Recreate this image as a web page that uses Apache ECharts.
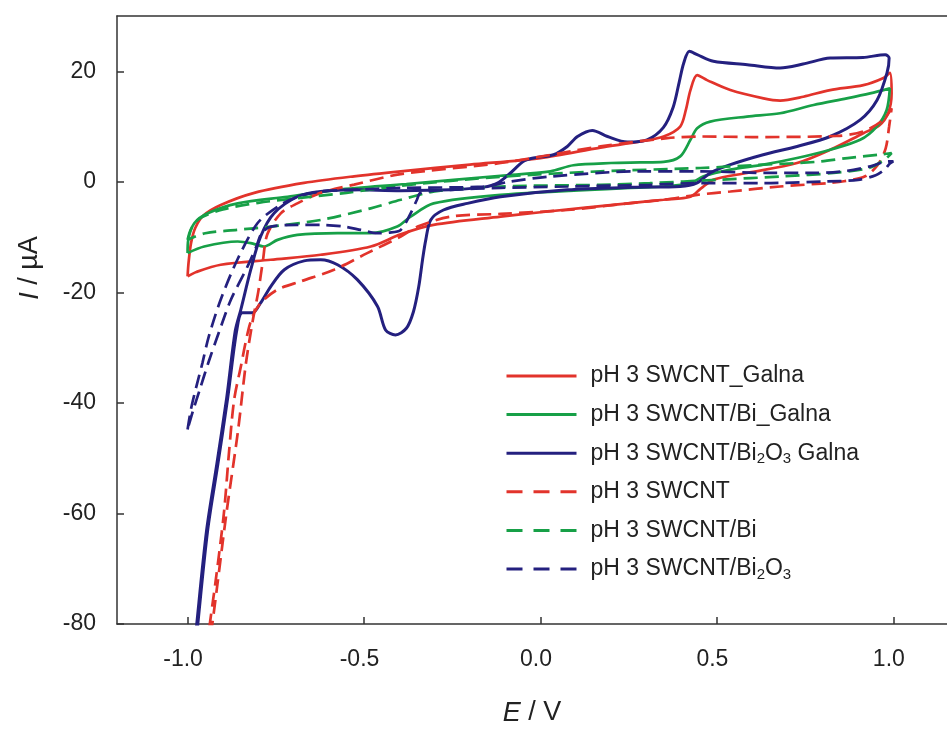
<!DOCTYPE html>
<html>
<head>
<meta charset="utf-8">
<script src="https://cdn.jsdelivr.net/npm/echarts@6/dist/echarts.min.js"></script>
<style>
html,body{margin:0;padding:0;background:#fff;}
#chart{width:947px;height:729px;}
</style>
</head>
<body>
<div id="chart"></div>
<script>
// Tick values
var xTicks = [-1.0, -0.5, 0.0, 0.5, 1.0];
var yTicks = [-80, -60, -40, -20, 0, 20];

// Series names (legend order)
var names = ['pH 3 SWCNT_Galna', 'pH 3 SWCNT/Bi_Galna', 'pH 3 SWCNT/Bi2O3 Galna',
             'pH 3 SWCNT', 'pH 3 SWCNT/Bi', 'pH 3 SWCNT/Bi2O3'];

// [E (V), I (uA)]
var redSolid = [
 [-1.000,-17.1],[-0.997,-14.5],[-0.990,-11.0],[-0.978,-8.3],[-0.955,-6.1],[-0.906,-4.2],
 [-0.811,-2.0],[-0.670,-0.2],[-0.528,1.0],[-0.396,1.9],[-0.200,3.1],[0.000,4.3],[0.170,6.2],
 [0.283,7.3],[0.349,8.2],[0.396,10.0],[0.412,13.0],[0.425,16.6],[0.444,19.3],[0.472,18.4],
 [0.538,16.6],[0.632,15.1],[0.679,14.7],[0.745,15.4],[0.821,16.6],[0.915,17.5],[0.972,18.8],
 [0.990,19.7],
 [0.995,16.0],[0.985,12.4],[0.960,10.2],[0.915,8.8],[0.821,5.8],[0.727,3.4],[0.585,1.6],
 [0.491,0.4],[0.455,-1.2],[0.425,-2.7],[0.349,-3.25],[0.255,-3.85],[0.000,-5.5],[-0.113,-6.3],
 [-0.303,-7.8],[-0.396,-9.5],[-0.481,-11.7],[-0.623,-13.2],[-0.764,-14.1],[-0.906,-15.0],
 [-0.975,-16.3],[-1.000,-17.1]
];
var greenSolid = [
 [-1.000,-12.9],[-0.998,-10.5],[-0.981,-7.5],[-0.943,-5.7],[-0.858,-3.9],[-0.717,-2.7],
 [-0.575,-1.45],[-0.380,-0.4],[-0.113,1.1],[0.028,1.9],[0.093,3.0],[0.200,3.4],[0.283,3.5],
 [0.349,3.6],[0.396,4.6],[0.425,7.6],[0.444,9.7],[0.481,10.9],[0.585,11.8],[0.679,12.4],
 [0.774,13.9],[0.868,15.1],[0.934,16.0],[0.990,16.9],
 [0.981,13.0],[0.953,10.0],[0.906,7.6],[0.821,5.8],[0.727,4.3],[0.632,3.1],[0.538,2.2],
 [0.462,1.0],[0.425,-0.24],[0.349,-0.85],[0.255,-1.1],[-0.113,-2.35],[-0.303,-3.9],
 [-0.368,-6.3],[-0.406,-8.1],[-0.481,-9.3],[-0.575,-9.3],[-0.689,-9.6],[-0.745,-10.5],
 [-0.783,-11.7],[-0.821,-11.1],[-0.858,-10.8],[-0.953,-11.7],[-1.000,-12.9]
];
var blueSolid = [
 [-1.000,-97],[-0.974,-80],[-0.946,-63],[-0.917,-51],[-0.889,-39],[-0.865,-27],[-0.849,-23.1],
 [-0.821,-15.9],[-0.793,-9.9],[-0.755,-5.7],[-0.689,-2.7],[-0.623,-1.75],[-0.528,-1.45],
 [-0.396,-1.6],[-0.255,-1.45],[-0.161,-0.96],[-0.122,-0.24],[-0.085,1.6],[-0.048,3.7],
 [-0.020,4.3],[0.037,4.9],[0.076,6.4],[0.105,8.2],[0.147,9.3],[0.190,8.2],[0.246,7.2],
 [0.302,7.6],[0.348,9.8],[0.376,13.5],[0.393,18.0],[0.406,21.5],[0.422,23.6],[0.444,23.0],
 [0.490,21.8],[0.586,21.2],[0.679,20.6],[0.744,21.3],[0.821,22.4],[0.914,22.5],[0.977,23.0],
 [0.988,22.4],
 [0.982,19.7],[0.954,14.8],[0.906,11.2],[0.821,8.2],[0.727,6.4],[0.631,4.9],[0.538,3.1],
 [0.481,1.6],[0.444,-0.2],[0.396,-0.85],[0.260,-1.0],[0.076,-1.45],[-0.113,-2.7],
 [-0.207,-3.9],[-0.275,-5.1],[-0.311,-6.9],[-0.325,-10.5],[-0.334,-14.0],[-0.345,-19.0],
 [-0.360,-23.5],[-0.380,-26.5],[-0.411,-27.7],[-0.439,-26.8],[-0.462,-22.5],[-0.519,-17.7],
 [-0.575,-15.0],[-0.623,-14.1],[-0.670,-14.3],[-0.726,-15.9],[-0.764,-18.9],[-0.793,-21.9],
 [-0.816,-23.7],[-0.845,-23.7],[-0.861,-27],[-0.886,-39],[-0.914,-51],[-0.943,-63],
 [-0.971,-80],[-0.997,-97]
];
var redDashed = [
 [-1.000,-112],[-0.930,-80],[-0.890,-60],[-0.857,-45],[-0.835,-33],[-0.815,-25],[-0.800,-20],
 [-0.787,-14.5],[-0.774,-9.5],[-0.736,-5.7],[-0.689,-3.9],[-0.623,-2.0],[-0.528,-0.5],
 [-0.396,1.4],[-0.113,3.4],[0.170,6.4],[0.359,7.9],[0.453,8.2],[0.600,8.1],[0.840,8.3],
 [0.914,9.1],[0.971,11.2],[0.995,13.3],
 [0.988,10.0],[0.978,6.0],[0.955,3.0],[0.920,1.0],[0.860,0.1],[0.821,-0.2],[0.679,-0.85],
 [0.538,-1.75],[0.444,-2.35],[0.349,-3.25],[0.255,-3.85],[0.076,-5.1],[-0.113,-5.8],
 [-0.255,-6.3],[-0.348,-8.1],[-0.396,-9.9],[-0.491,-12.9],[-0.585,-15.9],[-0.679,-18.0],
 [-0.745,-19.5],[-0.793,-21.9],[-0.816,-24.4],[-0.830,-27.4],[-0.849,-33.4],[-0.868,-39.4],
 [-0.882,-48.5],[-0.897,-59.9],[-0.920,-72],[-0.937,-80],[-1.000,-112]
];
var greenDashed = [
 [-1.000,-10.5],[-0.990,-8.5],[-0.965,-6.6],[-0.900,-5.0],[-0.800,-3.8],[-0.680,-2.9],
 [-0.550,-2.0],[-0.396,-0.7],[-0.113,0.9],[0.170,1.9],[0.453,2.5],[0.600,3.0],[0.780,3.6],
 [0.870,4.3],[0.970,5.0],[0.995,5.2],
 [0.975,4.0],[0.930,2.5],[0.830,1.6],[0.690,1.0],[0.500,0.36],[0.310,-0.24],[0.170,-0.54],
 [-0.113,-0.85],[-0.300,-1.75],[-0.396,-3.25],[-0.481,-4.8],[-0.623,-6.9],[-0.764,-8.1],
 [-0.860,-8.7],[-0.950,-9.3],[-1.000,-10.5]
];
var blueDashed = [
 [-1.000,-44.8],[-0.990,-41],[-0.975,-37],[-0.958,-32.8],[-0.940,-28],[-0.906,-21.3],
 [-0.859,-14.1],[-0.802,-7.5],[-0.745,-4.5],[-0.689,-2.7],[-0.623,-1.75],[-0.528,-1.45],
 [-0.396,-1.1],[-0.161,-0.85],[-0.085,0.05],[0.028,0.96],[0.283,1.9],[0.453,1.9],[0.640,1.6],
 [0.780,1.6],[0.870,2.0],[0.935,2.8],[0.985,3.7],[1.000,3.7],
 [0.990,3.3],[0.975,2.2],[0.950,1.2],[0.900,0.36],[0.800,0.05],[0.630,-0.24],[0.440,-0.24],
 [0.310,-0.54],[0.076,-0.85],[-0.113,-1.1],[-0.255,-1.45],[-0.340,-2.0],[-0.350,-3.25],
 [-0.368,-5.7],[-0.396,-8.7],[-0.430,-9.2],[-0.462,-9.3],[-0.509,-8.7],[-0.557,-8.1],
 [-0.623,-7.8],[-0.689,-7.8],[-0.764,-8.1],[-0.790,-9.3],[-0.805,-11.7],[-0.830,-15.3],
 [-0.877,-21.3],[-0.910,-27],[-0.940,-32.5],[-0.965,-37.5],[-0.985,-41.5],[-1.000,-44.8]
];

var RED = '#e2332b', GREEN = '#17a047', BLUE = '#24207f';
var FONT = '"Liberation Sans", Arial, sans-serif';
var dash = [14, 7];
var legendDash = [16, 11];

function mk(name, data, color, dashed, width) {
  return {
    name: name, type: 'line', data: data, symbol: 'none', showSymbol: false, smooth: 0.3,
    clip: true, animation: false,
    lineStyle: { color: color, width: width || 2.7, type: dashed ? dash : 'solid' },
    itemStyle: { color: color }
  };
}

var legendData = names.map(function (n, i) {
  return i < 3 ? { name: n } : { name: n, lineStyle: { type: legendDash, width: 3 } };
});

var chart = echarts.init(document.getElementById('chart'), null, { renderer: 'canvas' });
chart.setOption({
  animation: false,
  backgroundColor: '#fff',
  grid: { left: 117, top: 16, right: 0, bottom: 105, containLabel: false },
  xAxis: [{
    type: 'value', min: -1.2, max: 1.152,
    axisLine: { show: true, onZero: false, lineStyle: { color: '#333', width: 1.5 } },
    axisTick: { show: true, inside: true, length: 7, customValues: xTicks, lineStyle: { color: '#333', width: 1.5 } },
    axisLabel: { customValues: xTicks, fontSize: 23, fontFamily: FONT, color: '#222', margin: 24,
                 padding: [0, 9, 0, 0],
                 formatter: function (v) { return v.toFixed(1); } },
    splitLine: { show: false }
  }, {
    type: 'value', min: -1.2, max: 1.152, position: 'top',
    axisLine: { show: true, onZero: false, lineStyle: { color: '#333', width: 1.5 } },
    axisTick: { show: false }, axisLabel: { show: false }, splitLine: { show: false }
  }],
  yAxis: {
    type: 'value', min: -80, max: 30, position: 'left',
    axisLine: { show: true, onZero: false, lineStyle: { color: '#333', width: 1.5 } },
    axisTick: { show: true, inside: true, length: 7, customValues: yTicks, lineStyle: { color: '#333', width: 1.5 } },
    axisLabel: { customValues: yTicks, fontSize: 23, fontFamily: FONT, color: '#222', margin: 21 },
    splitLine: { show: false }
  },
  legend: {
    orient: 'vertical', left: 500, top: 358,
    itemWidth: 70, itemHeight: 14, itemGap: 12.6,
    data: legendData,
    itemStyle: { opacity: 0 },
    lineStyle: { width: 3 },
    formatter: function (n) { return n.replace('Bi2O3', 'Bi{s|2}O{s|3}'); },
    textStyle: {
      fontSize: 23, fontFamily: FONT, color: '#222', lineHeight: 26, padding: [0, 0, 0, 9],
      rich: { s: { fontSize: 15, fontFamily: FONT, color: '#222', lineHeight: 26, verticalAlign: 'bottom' } }
    }
  },
  graphic: [
    { type: 'text', x: 532, y: 713,
      style: { text: '{i|E} / V', fontSize: 27, fontFamily: FONT, fill: '#222', align: 'center', verticalAlign: 'middle',
               rich: { i: { fontStyle: 'italic', fontSize: 27, fontFamily: FONT, fill: '#222' } } } },
    { type: 'text', x: 30, y: 268, rotation: Math.PI / 2,
      style: { text: '{i|I} / µA', fontSize: 27, fontFamily: FONT, fill: '#222', align: 'center', verticalAlign: 'middle',
               rich: { i: { fontStyle: 'italic', fontSize: 27, fontFamily: FONT, fill: '#222' } } } }
  ],
  series: [
    mk(names[0], redSolid, RED, false),
    mk(names[1], greenSolid, GREEN, false),
    mk(names[2], blueSolid, BLUE, false, 3),
    mk(names[3], redDashed, RED, true),
    mk(names[4], greenDashed, GREEN, true),
    mk(names[5], blueDashed, BLUE, true)
  ]
});
</script>
</body>
</html>
